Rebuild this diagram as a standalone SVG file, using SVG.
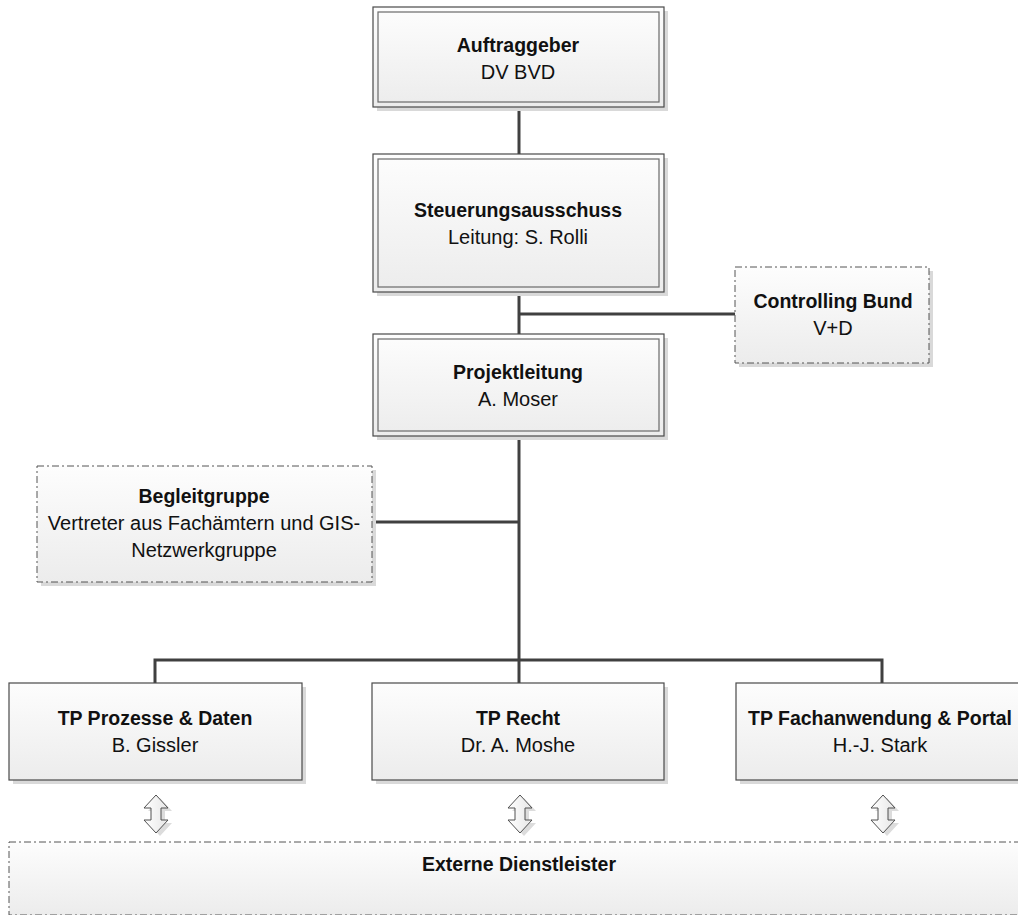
<svg xmlns="http://www.w3.org/2000/svg" width="1018" height="915" viewBox="0 0 1018 915">
<defs>
<linearGradient id="gFill" x1="0" y1="0" x2="0" y2="1">
<stop offset="0" stop-color="#fdfdfd"/>
<stop offset="1" stop-color="#ececec"/>
</linearGradient>
<linearGradient id="gArrow" x1="0" y1="0" x2="1" y2="0">
<stop offset="0" stop-color="#ffffff"/>
<stop offset="1" stop-color="#e6e6e6"/>
</linearGradient>
<path id="dbl" d="M0,0 L12,13 L5,13 L5,25 L12,25 L0,38 L-12,25 L-5,25 L-5,13 L-12,13 Z"/>
</defs>
<style>
.shadow{fill:#d9d9d9;}
.box{fill:url(#gFill);stroke:#4a4a4a;stroke-width:1.2;}
.inner{fill:none;stroke:#6a6a6a;stroke-width:1.2;}
.dash{fill:url(#gFill);stroke:#555555;stroke-width:1;stroke-dasharray:7 3 2 3;}
.conn{fill:none;stroke:#404040;stroke-width:3;}
.arr{fill:url(#gArrow);stroke:#505050;stroke-width:1;}
.arrsh{fill:#dcdcdc;}
text{font-family:"Liberation Sans",Arial,sans-serif;font-size:20px;fill:#111111;text-anchor:middle;}
.b{font-weight:bold;font-size:19.5px;}
</style>
<rect width="1018" height="915" fill="#ffffff"/>

<g id="connectors">
<line class="conn" x1="519" y1="107" x2="519" y2="154"/>
<line class="conn" x1="519" y1="292" x2="519" y2="334"/>
<line class="conn" x1="519" y1="314" x2="735" y2="314"/>
<line class="conn" x1="519" y1="436" x2="519" y2="660"/>
<line class="conn" x1="372" y1="522" x2="519" y2="522"/>
<polyline class="conn" points="155,683 155,660 882,660 882,683"/>
<line class="conn" x1="519" y1="660" x2="519" y2="683"/>
</g>

<g id="auftraggeber">
<rect class="shadow" x="377" y="11" width="291" height="100"/>
<rect class="box" x="373" y="7" width="291" height="100"/>
<rect class="inner" x="378" y="12" width="281" height="90"/>
<text class="b" x="518" y="52">Auftraggeber</text>
<text x="518" y="79">DV BVD</text>
</g>

<g id="steuerungsausschuss">
<rect class="shadow" x="377" y="158" width="291" height="138"/>
<rect class="box" x="373" y="154" width="291" height="138"/>
<rect class="inner" x="378" y="159" width="281" height="128"/>
<text class="b" x="518" y="217">Steuerungsausschuss</text>
<text x="518" y="244">Leitung: S. Rolli</text>
</g>

<g id="controlling">
<rect class="shadow" x="739" y="271" width="194" height="96"/>
<rect class="dash" x="735" y="267" width="194" height="96"/>
<text class="b" x="833" y="308">Controlling Bund</text>
<text x="833" y="335">V+D</text>
</g>

<g id="projektleitung">
<rect class="shadow" x="377" y="338" width="291" height="102"/>
<rect class="box" x="373" y="334" width="291" height="102"/>
<rect class="inner" x="378" y="339" width="281" height="92"/>
<text class="b" x="518" y="379">Projektleitung</text>
<text x="518" y="406">A. Moser</text>
</g>

<g id="begleitgruppe">
<rect class="shadow" x="41" y="470" width="335" height="116"/>
<rect class="dash" x="37" y="466" width="335" height="116"/>
<text class="b" x="204" y="503">Begleitgruppe</text>
<text x="204" y="530">Vertreter aus Fachämtern und GIS-</text>
<text x="204" y="557">Netzwerkgruppe</text>
</g>

<g id="tp-prozesse">
<rect class="shadow" x="13" y="687" width="293" height="97"/>
<rect class="box" x="9" y="683" width="293" height="97"/>
<text class="b" x="155" y="725">TP Prozesse &amp; Daten</text>
<text x="155" y="752">B. Gissler</text>
</g>

<g id="tp-recht">
<rect class="shadow" x="376" y="687" width="292" height="97"/>
<rect class="box" x="372" y="683" width="292" height="97"/>
<text class="b" x="518" y="725">TP Recht</text>
<text x="518" y="752">Dr. A. Moshe</text>
</g>

<g id="tp-fachanwendung">
<rect class="shadow" x="740" y="687" width="292" height="97"/>
<rect class="box" x="736" y="683" width="292" height="97"/>
<text class="b" x="880" y="725">TP Fachanwendung &amp; Portal</text>
<text x="880" y="752">H.-J. Stark</text>
</g>

<g id="arrows">
<use href="#dbl" class="arrsh" x="160" y="798"/>
<use href="#dbl" class="arr" x="156" y="795"/>
<use href="#dbl" class="arrsh" x="524" y="798"/>
<use href="#dbl" class="arr" x="520" y="795"/>
<use href="#dbl" class="arrsh" x="887" y="798"/>
<use href="#dbl" class="arr" x="883" y="795"/>
</g>

<g id="externe">
<rect class="dash" x="9" y="842" width="1030" height="73"/>
<text class="b" x="519" y="871">Externe Dienstleister</text>
</g>
</svg>
